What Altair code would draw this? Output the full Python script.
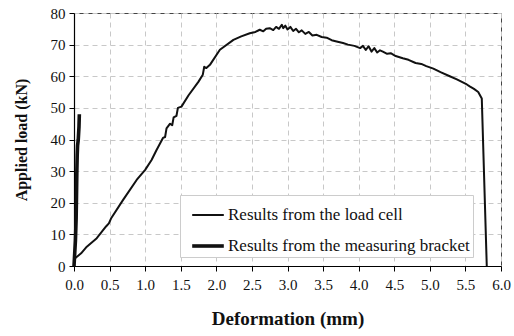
import altair as alt
import pandas as pd

# Load cell curve (deformation mm, load kN)
cell_x = [0.02, 0.10, 0.18, 0.32, 0.45, 0.49, 0.52, 0.69, 0.88, 1.00, 1.09, 1.16, 1.25, 1.28, 1.30,
          1.35, 1.38, 1.40, 1.44, 1.46, 1.51, 1.61, 1.75, 1.81, 1.83, 1.86, 1.91, 2.05, 2.24, 2.35,
          2.47, 2.55, 2.61, 2.66, 2.70, 2.75, 2.80, 2.84, 2.88, 2.92, 2.94, 2.97, 3.00, 3.04, 3.08,
          3.12, 3.16, 3.20, 3.25, 3.30, 3.35, 3.41, 3.48, 3.55, 3.62, 3.69, 3.78, 3.85, 3.94, 4.02,
          4.06, 4.10, 4.14, 4.18, 4.22, 4.26, 4.30, 4.34, 4.40, 4.45, 4.52, 4.62, 4.70, 4.80, 4.88,
          4.95, 5.05, 5.15, 5.28, 5.38, 5.45, 5.52, 5.56, 5.62, 5.68, 5.73, 5.80]
cell_y = [2.5, 4.0, 6.1, 8.8, 12.5, 13.5, 15.0, 20.9, 27.2, 30.4, 33.5, 36.7, 40.5, 40.8, 43.5,
          45.0, 44.5, 47.0, 47.5, 50.0, 50.4, 54.0, 58.3, 60.5, 63.0, 62.6, 63.6, 68.4, 71.5, 72.6,
          73.6, 74.0, 74.7, 74.2, 75.0, 75.2, 74.6, 75.6, 75.0, 76.3, 75.2, 76.0, 74.8, 75.6, 74.3,
          75.0, 73.9, 74.5, 73.4, 74.0, 72.9, 73.1, 72.4, 72.2, 71.4, 71.0, 70.5, 70.0, 69.6, 68.9,
          69.6, 68.3, 69.5, 67.8, 68.9, 67.5, 68.2, 67.8, 67.1, 67.3, 66.4, 65.7, 65.2, 64.2, 63.9,
          63.2, 62.4, 61.3, 60.0, 59.0, 58.2, 57.4, 56.8, 56.0, 55.0, 53.0, 0.0]

# Measuring bracket curve
brk_x = [0.00, 0.01, 0.02, 0.03, 0.035, 0.04, 0.045, 0.05, 0.06, 0.065, 0.07, 0.075]
brk_y = [0.0, 4.0, 8.0, 15.0, 22.0, 30.0, 35.0, 38.0, 40.0, 42.0, 44.0, 48.0]

series_names = ["Results from the load cell", "Results from the measuring bracket"]

x_ticks = [0.0, 0.5, 1.0, 1.5, 2.0, 2.5, 3.0, 3.5, 4.0, 4.5, 5.0, 5.5, 6.0]
y_ticks = [0, 10, 20, 30, 40, 50, 60, 70, 80]

rows = []
for i, (x, y) in enumerate(zip(cell_x, cell_y)):
    rows.append({"series": series_names[0], "x": x, "y": y, "i": i})
for i, (x, y) in enumerate(zip(brk_x, brk_y)):
    rows.append({"series": series_names[1], "x": x, "y": y, "i": i})
df = pd.DataFrame(rows)

FONT = "Liberation Serif"
axis_common = dict(grid=True, gridDash=[5, 4], gridColor="#c8c8c8",
                   domainColor="#000000", domainWidth=1.2, tickColor="#000000", tickSize=5,
                   labelFlush=False, labelFont=FONT, labelFontSize=15, labelColor="#111111",
                   titleFont=FONT, titleFontWeight="bold", titleColor="#111111")

chart = alt.Chart(df).mark_line(color="#111111", strokeJoin="round").encode(
    x=alt.X("x:Q", scale=alt.Scale(domain=[0, 6], nice=False),
            axis=alt.Axis(values=x_ticks, format=".1f", title="Deformation (mm)",
                          labelPadding=6, titlePadding=17, titleFontSize=19, **axis_common)),
    y=alt.Y("y:Q", scale=alt.Scale(domain=[0, 80], nice=False),
            axis=alt.Axis(values=y_ticks, title="Applied load (kN)",
                          labelPadding=4, titlePadding=21, titleFontSize=16, **axis_common)),
    strokeWidth=alt.StrokeWidth("series:N",
                                scale=alt.Scale(domain=series_names, range=[2.0, 3.6]),
                                legend=alt.Legend(orient="none", legendX=106, legendY=182,
                                                  title=None, fillColor="white",
                                                  strokeColor="#cccccc", padding=3,
                                                  symbolType="stroke", symbolSize=1000,
                                                  symbolOffset=7,
                                                  symbolStrokeColor="#111111",
                                                  labelFont=FONT, labelFontSize=17,
                                                  labelColor="#111111", rowPadding=5,
                                                  labelOffset=2, labelLimit=400)),
    detail="series:N",
    order="i:Q",
).properties(
    width=427, height=253,
    autosize=alt.AutoSizeParams(type="none"),
    padding={"left": 74, "top": 13, "right": 13, "bottom": 70},
    background="white",
).configure_view(
    stroke="#444444", strokeWidth=1
)

chart.save("out.html", embed_options={"renderer": "svg", "actions": False})
